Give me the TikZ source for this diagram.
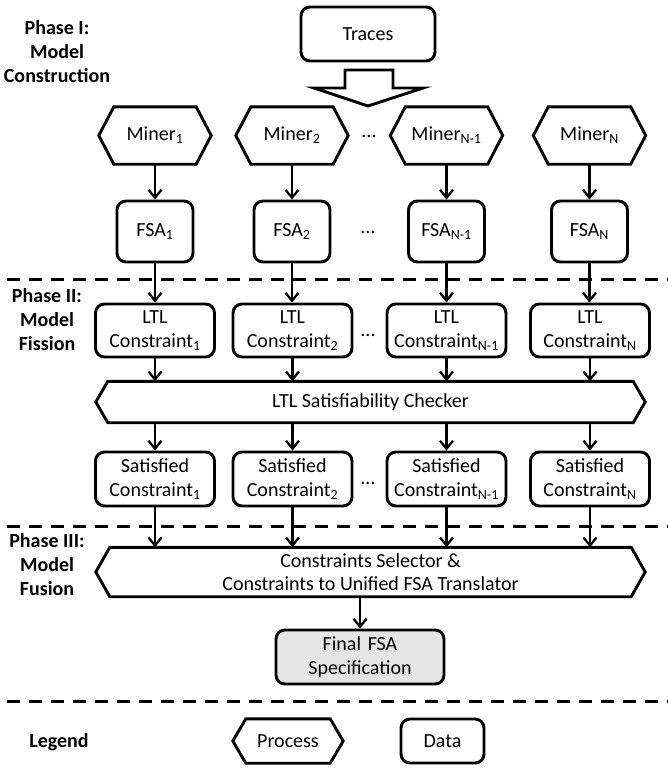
\documentclass[tikz,border=0pt]{standalone}
\usepackage{fontspec}
\setmainfont{Carlito}
\usetikzlibrary{arrows.meta}
\newcommand{\hexdraw}[2]{\draw[procline] ([xshift=#2]#1.north west) -- ([xshift=-#2]#1.north east) -- (#1.east) -- ([xshift=-#2]#1.south east) -- ([xshift=#2]#1.south west) -- (#1.west) -- cycle;}
\begin{document}
\begin{tikzpicture}[x=1pt,y=-1pt,
  every node/.style={font=\fontsize{20}{23.5}\selectfont, inner sep=0pt},
  data/.style={draw, line width=2.9pt, rounded corners=9pt, rectangle, align=center},
  proc/.style={rectangle, align=center},
  procline/.style={line width=2.9pt, line join=miter},
  arr/.style={line width=2.3pt, -{Straight Barb[length=8pt,width=13pt,line width=2.3pt]}},
  sep/.style={line width=3pt, dash pattern=on 13pt off 9pt},
  phase/.style={font=\bfseries\fontsize{20}{24}\selectfont, align=center},
  dotsn/.style={anchor=base}
]
\useasboundingbox (0,0) rectangle (668,769);

% Phase labels
\node[phase] (ph1) at (57,51.5) {Phase I:\\Model\\Construction};
\node[phase] (ph2) at (47,320) {Phase II:\\Model\\Fission};
\node[phase] (ph3) at (47,565) {Phase III:\\Model\\Fusion};

% Traces
\node[data, minimum width=134pt, minimum height=54pt] (traces) at (368,34) {Traces};
\draw[line width=2.9pt, line join=miter] (345,70) -- (393,70) -- (393,88) -- (423,88) -- (368,106) -- (314,88) -- (345,88) -- cycle;

% Miners
\node[proc, minimum width=112pt, minimum height=57pt] (m1) at (155,135.5) {Miner\textsubscript{1}};
\node[proc, minimum width=112pt, minimum height=57pt] (m2) at (292,135.5) {Miner\textsubscript{2}};
\node[proc, minimum width=112pt, minimum height=57pt] (m3) at (446.5,135.5) {Miner\textsubscript{N-1}};
\node[proc, minimum width=112pt, minimum height=57pt] (m4) at (589.5,135.5) {Miner\textsubscript{N}};
\hexdraw{m1}{15pt}
\hexdraw{m2}{15pt}
\hexdraw{m3}{15pt}
\hexdraw{m4}{15pt}
\node[dotsn] (d1) at (369,137) {...};

% FSAs
\node[data, minimum width=76pt, minimum height=61pt] (f1) at (155,231.5) {FSA\textsubscript{1}};
\node[data, minimum width=76pt, minimum height=61pt] (f2) at (292,231.5) {FSA\textsubscript{2}};
\node[data, minimum width=76pt, minimum height=61pt] (f3) at (446.5,231.5) {FSA\textsubscript{N-1}};
\node[data, minimum width=76pt, minimum height=61pt] (f4) at (589.5,231.5) {FSA\textsubscript{N}};
\node[dotsn] (d2) at (368,233) {...};

\foreach \i in {1,2,3,4} {\draw[arr] (m\i) -- (f\i);}

% separator 1
\draw[sep] (7,279) -- (668,279);

% LTL constraints
\node[data, minimum width=119pt, minimum height=53pt] (l1) at (155,330.5) {LTL\\Constraint\textsubscript{1}};
\node[data, minimum width=119pt, minimum height=53pt] (l2) at (292.5,330.5) {LTL\\Constraint\textsubscript{2}};
\node[data, minimum width=119pt, minimum height=53pt] (l3) at (446.5,330.5) {LTL\\Constraint\textsubscript{N-1}};
\node[data, minimum width=119pt, minimum height=53pt] (l4) at (590,330.5) {LTL\\Constraint\textsubscript{N}};
\node[dotsn] (d3) at (368,336) {...};

\foreach \i in {1,2,3,4} {\draw[arr] (f\i.south) -- (f\i.south |- l\i.north);}

% Checker
\node[proc, minimum width=549pt, minimum height=41pt] (chk) at (370.5,402) {LTL Satisfiability Checker};
\hexdraw{chk}{12pt}
\foreach \i in {1,2,3,4} {\draw[arr] (l\i.south) -- (l\i.south |- chk.north);}

% Satisfied constraints
\node[data, minimum width=119pt, minimum height=54pt] (s1) at (155,479) {Satisfied\\Constraint\textsubscript{1}};
\node[data, minimum width=119pt, minimum height=54pt] (s2) at (292.5,479) {Satisfied\\Constraint\textsubscript{2}};
\node[data, minimum width=119pt, minimum height=54pt] (s3) at (446.5,479) {Satisfied\\Constraint\textsubscript{N-1}};
\node[data, minimum width=119pt, minimum height=54pt] (s4) at (590,479) {Satisfied\\Constraint\textsubscript{N}};
\node[dotsn] (d4) at (368,484) {...};
\foreach \i in {1,2,3,4} {\draw[arr] (chk.south -| s\i.north) -- (s\i.north);}

% separator 2
\draw[sep] (7,526) -- (668,526);

% Selector
\node[proc, minimum width=549pt, minimum height=49pt] (sel) at (370.5,572) {Constraints Selector \&\\Constraints to Unified FSA Translator};
\hexdraw{sel}{14pt}
\foreach \i in {1,2,3,4} {\draw[arr] (s\i.south) -- (s\i.south |- sel.north);}

% Final
\node[data, fill=gray!20, minimum width=168pt, minimum height=54pt] (fin) at (360,657) {Final\,\,FSA\\Specification};
\draw[arr] (sel.south -| fin.north) -- (fin.north);

% separator 3
\draw[sep] (7,701) -- (668,701);

% Legend
\node[font=\bfseries\fontsize{20}{24}\selectfont] (leg) at (59,742) {Legend};
\node[proc, minimum width=110pt, minimum height=44pt] (lp) at (288,741) {Process};
\hexdraw{lp}{13pt}
\node[data, minimum width=83pt, minimum height=44pt] (ld) at (442.5,741) {Data};
\end{tikzpicture}
\end{document}
